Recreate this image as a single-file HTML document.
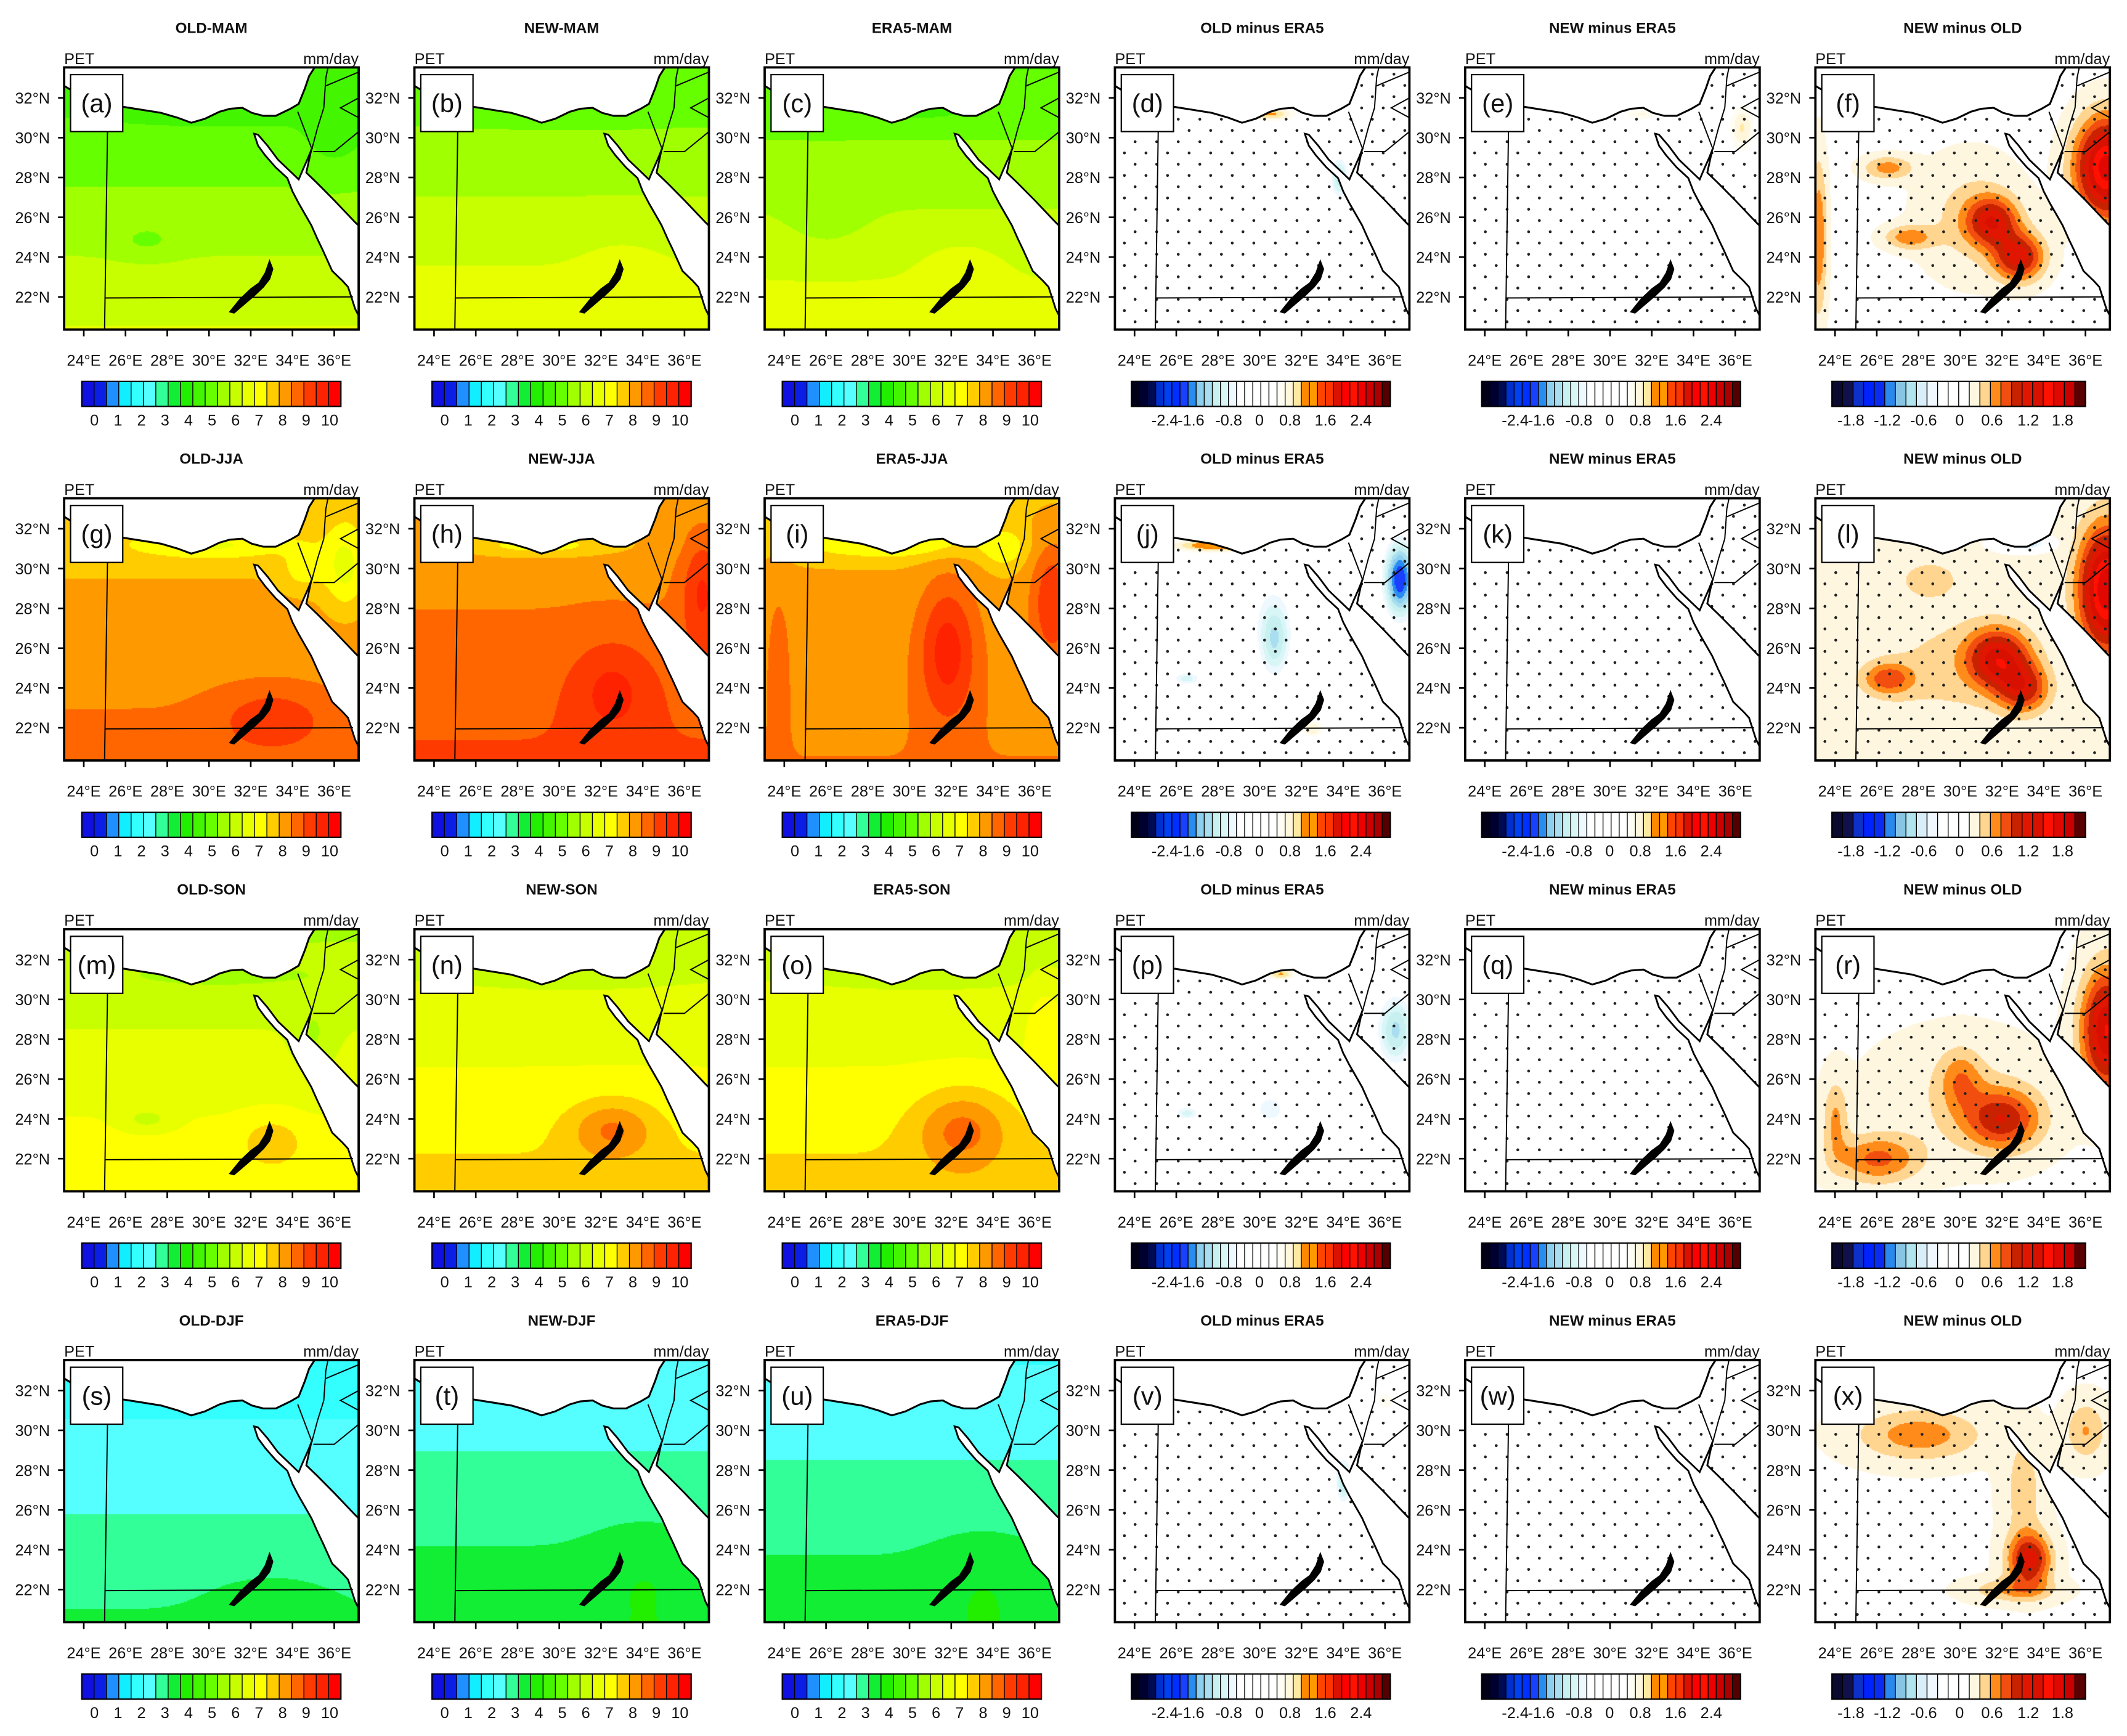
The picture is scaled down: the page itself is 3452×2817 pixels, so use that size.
<!DOCTYPE html>
<html><head><meta charset="utf-8">
<style>
html,body{margin:0;padding:0;background:#fff;}
#wrap{position:relative;width:3452px;height:2817px;overflow:hidden;background:#fff;}
canvas{position:absolute;}
#svg{position:absolute;left:0;top:0;}
text{font-family:"Liberation Sans",sans-serif;fill:#111;}
</style></head>
<body>
<div id="wrap">
<svg id="svg" width="3452" height="2817" viewBox="0 0 1568 1280" preserveAspectRatio="none" xmlns="http://www.w3.org/2000/svg"></svg>
</div>
<script>
// ---- data: per-panel fields (mm/day or difference) ----
const seasons = ['MAM','JJA','SON','DJF'];
const colTitles = ['OLD-','NEW-','ERA5-','OLD minus ERA5','NEW minus ERA5','NEW minus OLD'];
const letters = 'abcdefghijklmnopqrstuvwx'.split('');
const absLabels = ['0','1','2','3','4','5','6','7','8','9','10'];
const diffLabels = ['-2.4','-1.6','-0.8','0','0.8','1.6','2.4'];
const diff2Labels = ['-1.8','-1.2','-0.6','0','0.6','1.2','1.8'];
const latTicks = [22,24,26,28,30,32];
const lonTicks = [24,26,28,30,32,34,36];
const baseVal = [5.35,5.8,5.7,0.05,0.12,0.12,
                 8.1,8.5,8.1,0.0,0.05,0.2,
                 6.5,6.8,6.8,0.05,0.12,0.15,
                 2.5,2.85,2.8,-0.05,0.08,0.15];
const gradLat = [-0.15,-0.15,-0.15,0,0,0,
                 -0.08,-0.08,-0.05,0,0,0,
                 -0.12,-0.12,-0.12,0,0,0,
                 -0.11,-0.11,-0.11,0,0,0];
const blobs = [
 [[27,24.8,1.5,0.8,-0.5],[36,30,1.5,2,-0.4],[30.5,31.2,4,0.5,-0.4]],
 [[33,23,2,2,0.3],[30.5,31.2,4,0.5,-0.4]],
 [[32.5,23.5,2,1.5,0.4],[26,26,2,2,-0.3],[30.5,31.2,4,0.5,-0.4]],
 [[33.8,28,0.5,1.2,-1.2],[30.5,31.2,1.2,0.35,1.0],[32.2,23.5,0.9,0.8,-0.5],[27,25,2,2,0.15]],
 [[36.3,30.5,0.6,1.2,0.7],[31.5,31.2,1,0.3,0.5],[26,24.5,1,1,0.2]],
 [[31.5,25.8,1.2,1.2,0.9],[32.8,24,1.2,1.2,1.0],[37,28.5,1.5,2.5,1.6],[29.5,31,1,0.4,-0.6],[26.5,28.5,1.2,0.6,0.5],[27.5,25,1.2,0.6,0.5],[23.2,25,0.4,4,0.6],[30.5,26,2.5,3,0.3]],
 [[33,22.5,2.5,1.5,0.9],[30,31.2,4,0.7,-1.0],[36.5,30,1,2,-1.2],[34.5,30,1,1,-0.8]],
 [[32.5,24,2,2.5,0.9],[36.8,29,1,3,1.2],[29,31.2,4,0.6,-1.0]],
 [[31.8,26,1.4,3.5,1.6],[36.8,28.5,1,3,1.4],[29,31.3,4.5,0.8,-1.1],[23.7,26,0.6,4,0.5],[34.5,31,1,1,-0.8]],
 [[28,31.2,2.5,0.35,1.3],[30.7,26.3,0.8,2,-1.0],[30.5,28,1.5,2.5,-0.4],[36.7,29.5,0.8,2,-2.0],[26.5,24.5,0.8,0.4,-0.9],[32.5,22,0.6,0.5,0.8],[32.5,23.5,0.5,0.7,-0.6]],
 [[30.5,26.5,2,2,-0.3],[27,24.5,0.8,0.4,-0.4]],
 [[31.8,25.5,1.5,1.5,1.1],[33,24,1.2,1.2,0.8],[26.5,24.5,1.2,0.8,0.6],[37,29,1.3,3,1.6],[33,31.3,1,0.3,-1.2],[28.5,29.5,1.5,1,0.25],[29,25,3,3,0.2]],
 [[27,24,1.2,0.6,-0.7],[33,23,1.5,1.2,0.7],[35,28,1,2,-0.6],[30.5,31.2,4,0.5,-0.5]],
 [[32.5,23.5,2,1.5,1.3],[30.5,31.2,4,0.5,-0.4]],
 [[32.5,23.5,2.2,2,1.4],[36.5,29,1,2,0.6],[30.5,31.2,4,0.5,-0.4]],
 [[36.5,28.5,1,2,-1.3],[30.5,24.5,0.9,0.9,-0.8],[26.5,24.3,0.7,0.4,-0.9],[31,31.3,0.7,0.3,1.0],[28,27,3,3,-0.15]],
 [[31,24,1,1,-0.35],[36.5,29,0.8,2,-0.3]],
 [[32,24,1.8,1.5,0.8],[30,26,1,1.5,0.4],[37,28.5,1.2,3,1.3],[26,22,2,1.2,0.6],[24,24,0.6,2,0.4],[30,25,4,3,0.2]],
 [[33,21.5,3,1.5,0.3]],
 [[34,23,2.5,2.5,0.35]],
 [[33.5,22.5,2.5,2.5,0.35]],
 [[34,27.5,0.4,1.2,-1.2],[36,31.5,0.6,0.6,0.6],[30,22,3,1.5,0.2]],
 [[36,30,1,2,0.3]],
 [[28,29.8,3,1.3,0.5],[33.3,23.5,1,1.3,1.0],[32.5,22,2,0.6,0.4],[36,30,1,1.5,0.4],[33,27,1,3,0.3]]
];
// ---- colour maps ----
const absColors = ['#1010e0','#0a1ee6','#1e90ff','#11eeff','#33ffff','#55ffff','#33ff99','#11ee33','#22ee00','#44f500','#66ff00','#a0ff00','#c8ff00','#e8ff00','#ffff00','#ffcc00','#ff9900','#ff6600','#ff3a00','#ff2200','#ff0000'];
const diffColors = ['#000018','#000030','#000a50','#0030d0','#0040f0','#0030ff','#1a40ff','#2a8cf0','#8ccfee','#a8def0','#c8f0f0','#d8f6f6','#eef9ff','#ffffff','#ffffff','#ffffff','#ffffff','#ffffff','#fffdf2','#fff6dc','#ffe8a0','#ff8800','#ff9900','#ff4400','#ff3300','#dd1100','#ff0000','#ff1100','#ee0000','#cc0000','#aa0000','#550000'];
const diff2Colors = ['#0a0a30','#10104a','#0c30c8','#0022ff','#0a2cf0','#2a88ee','#88c4e4','#b0e4ee','#d8eef8','#f0f8ff','#ffffff','#ffffff','#ffffff','#fff6e0','#ffd590','#ff8c1a','#f24e10','#c82200','#e01600','#d81000','#ff1000','#e00800','#c80000','#5a0000'];

// ---- geometry ----
const LON0=23.06, LON1=37.17, LAT0=20.36, LAT1=33.53;
const MW=217.1, MH=193.3, PX=258.2, PY=317.7, X0=47.3, Y0=49.7;
const SX=3452/1568, SY=2817/1280;
const med=[[23.06,33.6],[23.06,32.6],[24.0,32.0],[25.2,31.7],[25.9,31.55],[26.8,31.4],[27.7,31.25],[28.5,31.0],[29.15,30.75],[29.8,30.95],[30.5,31.3],[31.0,31.45],[31.6,31.5],[32.05,31.25],[32.6,31.1],[33.2,31.1],[33.9,31.45],[34.3,31.7],[34.6,32.5],[34.8,33.1],[35.1,33.6]];
const redSea=[[32.16,30.2],[32.35,29.6],[32.7,29.1],[33.2,28.5],[33.75,27.97],[34.0,27.3],[34.3,26.7],[34.9,25.6],[35.2,24.9],[35.43,24.4],[35.9,23.3],[36.4,22.8],[36.66,22.5],[37.0,21.4],[37.25,20.9],[37.25,25.5],[37.0,25.75],[36.0,26.85],[35.2,27.7],[34.66,28.24],[34.9,29.4],[34.95,29.5],[34.75,29.0],[34.5,28.4],[34.3,27.9],[33.9,28.3],[33.3,28.9],[32.8,29.6],[32.35,30.15]];
const lake=[[31.0,21.25],[31.5,21.9],[32.0,22.4],[32.4,22.7],[32.7,23.2],[32.9,23.8],[33.05,23.4],[32.9,22.9],[32.6,22.5],[32.2,22.1],[31.2,21.2]];
const borders=[[[25.15,31.6],[25.0,20.36]],[[25.0,21.95],[36.9,22.0]],[[34.25,31.3],[34.9,29.5]],[[34.95,29.5],[35.2,30.5],[35.5,31.5],[35.6,33.0],[35.7,33.53]],[[35.0,29.3],[36.0,29.3],[37.17,30.3]],[[35.6,32.6],[37.17,33.3]],[[37.17,32.0],[36.3,31.5],[37.17,31.0]]];

function val(p,lon,lat){
  let v=baseVal[p]+gradLat[p]*(lat-27);
  for(const b of blobs[p]){const dx=(lon-b[0])/b[2],dy=(lat-b[1])/b[3];v+=b[4]*Math.exp(-(dx*dx+dy*dy));}
  return v;
}
function colorFor(c,v){
  if(c<3){let i=Math.floor(v/(10/19))+1;return absColors[Math.max(0,Math.min(20,i))];}
  if(c<5){let i=Math.floor(v/0.2)+16;return diffColors[Math.max(0,Math.min(31,i))];}
  let i=Math.floor(v/0.18)+12;return diff2Colors[Math.max(0,Math.min(23,i))];
}
function hex(h){return [parseInt(h.substr(1,2),16),parseInt(h.substr(3,2),16),parseInt(h.substr(5,2),16)];}

const NS='http://www.w3.org/2000/svg';
const svg=document.getElementById('svg');
const wrap=document.getElementById('wrap');
function mk(tag,attrs,parent){const e=document.createElementNS(NS,tag);for(const k in attrs)e.setAttribute(k,attrs[k]);(parent||svg).appendChild(e);return e;}
function txt(s,attrs,parent){const e=mk('text',attrs,parent);e.textContent=s;return e;}

for(let r=0;r<4;r++)for(let c=0;c<6;c++){
  const p=r*6+c, x0=X0+PX*c, y0=Y0+PY*r;
  const X=lon=>x0+(lon-LON0)/(LON1-LON0)*MW;
  const Y=lat=>y0+(LAT1-lat)/(LAT1-LAT0)*MH;
  const cv=document.createElement('canvas');
  
  
  const cw=Math.round(MW*SX), ch=Math.round(MH*SY);
  cv.width=cw;cv.height=ch;
  cv.style.left=Math.round(x0*SX)+'px';cv.style.top=Math.round(y0*SY)+'px';
  wrap.insertBefore(cv,svg);
  const ctx=cv.getContext('2d');const img=ctx.createImageData(cw,ch);
  const cache={};
  for(let j=0;j<ch;j+=2)for(let i=0;i<cw;i+=2){
    const lon=LON0+(i/cw)*(LON1-LON0), lat=LAT1-(j/ch)*(LAT1-LAT0);
    const col=colorFor(c,val(p,lon,lat));
    const rgb=cache[col]||(cache[col]=hex(col));
    for(let a=0;a<2;a++)for(let b=0;b<2;b++){
      const ii=i+a,jj=j+b;if(ii>=cw||jj>=ch)continue;
      const k=(jj*cw+ii)*4;img.data[k]=rgb[0];img.data[k+1]=rgb[1];img.data[k+2]=rgb[2];img.data[k+3]=255;
    }
  }
  ctx.putImageData(img,0,0);

  const g=mk('g',{});
  
  
  const cp=mk('clipPath',{id:'clip'+p},g);
  mk('rect',{x:x0,y:y0,width:MW,height:MH},cp);
  const mg=mk('g',{'clip-path':'url(#clip'+p+')'},g);
  if(c>=3){
    const dg=mk('g',{fill:'#222'},mg);
    
    
    let row=0;
    for(let gy=y0+46.5;gy<y0+MH;gy+=8.3,row++){
      for(let gx=x0+7+(row%2?7.95:0);gx<x0+MW;gx+=15.9){
        mk('circle',{cx:gx.toFixed(1),cy:gy.toFixed(1),r:1.05},dg);
      }
    }
    row=0;
    for(let gy=y0+46.5-8.3;gy>y0;gy-=8.3,row++){
      for(let gx=x0+7+(row%2?0:7.95);gx<x0+MW;gx+=15.9){
        if(gx<x0+46)continue;
        mk('circle',{cx:gx.toFixed(1),cy:gy.toFixed(1),r:1.05},dg);
      }
    }
  }
  const poly=pts=>pts.map(q=>X(q[0]).toFixed(1)+','+Y(q[1]).toFixed(1)).join(' ');
  const ms=mk('polygon',{points:poly(med),fill:'#fff',stroke:'#000','stroke-width':1.4},mg);
  
  
  const rs=mk('polygon',{points:poly(redSea),fill:'#fff',stroke:'#000','stroke-width':1.3},mg);
  
  
  const lk=mk('polygon',{points:poly(lake),fill:'#000',stroke:'#000','stroke-width':1},mg);
  
  
  for(const bd of borders){
    const bl=mk('polyline',{points:poly(bd),fill:'none',stroke:'#000','stroke-width':0.9},mg);
    
    
  }
  const fr=mk('rect',{x:x0,y:y0,width:MW,height:MH,fill:'none',stroke:'#000','stroke-width':1.7},g);
  
  
  const lb=mk('rect',{x:x0+4.7,y:y0+5.3,width:38.5,height:42,fill:'#fff',stroke:'#000','stroke-width':1},g);
  
  
  const lt=txt('('+letters[p]+')',{x:x0+24,y:y0+33,'font-size':19,'text-anchor':'middle'},g);
  
  
  const title=c<3?colTitles[c]+seasons[r]:colTitles[c];
  const tt=txt(title,{x:x0+MW/2,y:y0-25.5,'font-size':11,'font-weight':'bold','text-anchor':'middle'},g);
  
  
  const pt=txt('PET',{x:x0,y:y0-2.5,'font-size':11.5},g);
  
  
  const ut=txt('mm/day',{x:x0+MW,y:y0-2.5,'font-size':11.5,'text-anchor':'end'},g);
  
  
  for(const la of latTicks){
    const y=Y(la);
    mk('line',{x1:x0-4.5,x2:x0,y1:y,y2:y,stroke:'#000','stroke-width':1.2},g);
    const tl=txt(la+'°N',{x:x0-10.5,y:y+4.2,'font-size':11.5,'text-anchor':'end'},g);
    
    
  }
  for(const lo of lonTicks){
    const x=X(lo);
    mk('line',{x1:x,x2:x,y1:y0+MH,y2:y0+MH+5,stroke:'#000','stroke-width':1.2},g);
    const tl=txt(lo+'°E',{x:x,y:y0+220,'font-size':11.5,'text-anchor':'middle'},g);
    
    
  }
  const cb=mk('g',{},g);
  
  
  let colors,cbx,cbw,labels,offs;
  if(c<3){colors=absColors;cbx=x0+13;cbw=191;labels=absLabels;offs=labels.map((s,i)=>9.3+i*17.34);}
  else if(c<5){colors=diffColors;cbx=x0+12.2;cbw=190.8;labels=diffLabels;offs=[24.7,43.9,71.7,94.3,116.9,143,169.2];}
  else {colors=diff2Colors;cbx=x0+12.2;cbw=186.9;labels=diff2Labels;offs=[14,40.8,67.5,94.1,118,144.7,170];}
  const cby=y0+231.5, cbh=18.5, bw=cbw/colors.length;
  colors.forEach((col,i)=>{
    const bx=mk('rect',{x:(cbx+i*bw).toFixed(2),y:cby,width:bw.toFixed(2),height:cbh,fill:col,stroke:'#000','stroke-width':0.6},cb);
    
    
  });
  mk('rect',{x:cbx,y:cby,width:cbw,height:cbh,fill:'none',stroke:'#000','stroke-width':1},cb);
  labels.forEach((s,i)=>{
    const cl=txt(s,{x:cbx+offs[i],y:cby+32.5,'font-size':11.5,'text-anchor':'middle'},cb);
    
    
  });
}
</script>
</body></html>
